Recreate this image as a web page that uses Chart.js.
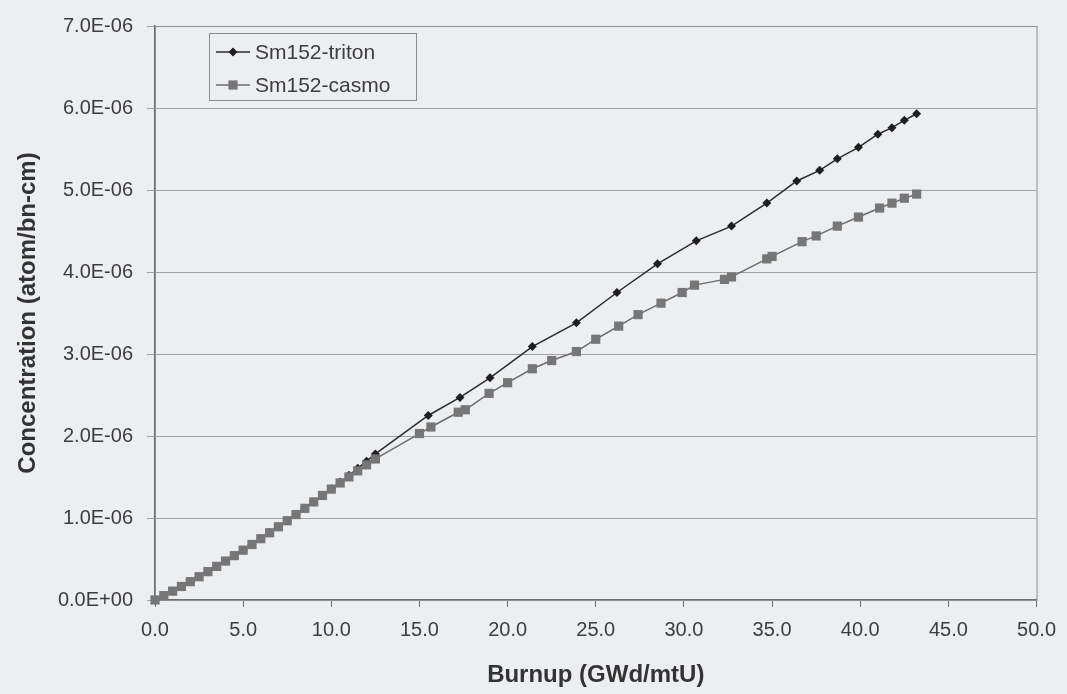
<!DOCTYPE html>
<html>
<head>
<meta charset="utf-8">
<script src="https://cdn.jsdelivr.net/npm/chart.js@4.4.1/dist/chart.umd.min.js"></script>
<style>
  html, body { margin: 0; padding: 0; background: #eceef1; }
</style>
</head>
<body>
<canvas id="smChart" width="1067" height="694"></canvas>
<script>
// burnup (GWd/mtU) and Sm152 concentration in units of 1E-06 atom/bn-cm
const burnupTriton = [0, 0.5, 1.0, 1.5, 2.0, 2.5, 3.0, 3.5, 4.0, 4.5, 5.0, 5.5, 6.0, 6.5, 7.0, 7.5, 8.0, 8.5, 9.0, 9.5,
  10.0, 10.5, 11.0, 11.5, 12.0, 12.5,
  15.5, 17.3, 19.0, 21.4, 23.9, 26.2, 28.5, 30.7, 32.7, 34.7, 36.4, 37.7, 38.7, 39.9, 41.0, 41.8, 42.5, 43.2];
const tritonConc = [0.000, 0.053, 0.108, 0.165, 0.224, 0.284, 0.346, 0.410, 0.475, 0.541, 0.608, 0.677, 0.748, 0.820, 0.893, 0.967,
  1.042, 1.118, 1.196, 1.275, 1.356, 1.438, 1.521, 1.606, 1.693, 1.781,
  2.25, 2.47, 2.71, 3.09, 3.38, 3.75, 4.10, 4.38, 4.56, 4.84, 5.11, 5.24, 5.38, 5.52, 5.68, 5.76, 5.85, 5.93];

const burnupCasmo = [0, 0.5, 1.0, 1.5, 2.0, 2.5, 3.0, 3.5, 4.0, 4.5, 5.0, 5.5, 6.0, 6.5, 7.0, 7.5, 8.0, 8.5, 9.0, 9.5,
  10.0, 10.5, 11.0, 11.5, 12.0, 12.5,
  15.0, 15.65, 17.2, 17.6, 18.95, 20.0, 21.4, 22.5, 23.9, 25.0, 26.3, 27.4, 28.7, 29.9, 30.6, 32.3, 32.7, 34.7, 35.0,
  36.7, 37.5, 38.7, 39.9, 41.1, 41.8, 42.5, 43.2];
const casmoConc = [0.000, 0.053, 0.108, 0.165, 0.224, 0.284, 0.346, 0.410, 0.475, 0.541, 0.608, 0.677, 0.748, 0.820, 0.893, 0.967,
  1.042, 1.118, 1.196, 1.275, 1.352, 1.427, 1.501, 1.575, 1.648, 1.720,
  2.03, 2.11, 2.29, 2.32, 2.52, 2.65, 2.82, 2.92, 3.03, 3.18, 3.34, 3.48, 3.62, 3.75, 3.84, 3.91, 3.94, 4.16, 4.19,
  4.37, 4.44, 4.56, 4.67, 4.78, 4.84, 4.90, 4.95];

const seriesNames = ['Sm152-triton', 'Sm152-casmo'];
const xTicks = [0, 5, 10, 15, 20, 25, 30, 35, 40, 45, 50];
const yTicks = [0, 1, 2, 3, 4, 5, 6, 7];

const textColor = '#3d3d3d';
const fontFamily = '"Liberation Sans", Arial, sans-serif';

const toPoints = (xs, ys) => xs.map((x, i) => ({ x: x, y: ys[i] }));

// frame around the plot area (Excel style)
const plotFrame = {
  id: 'plotFrame',
  beforeDatasetsDraw(chart) {
    const { ctx, chartArea: a } = chart;
    ctx.save();
    ctx.strokeStyle = '#8e8e8e';
    ctx.lineWidth = 1;
    ctx.strokeRect(a.left + 0.5, a.top + 0.5, a.right - a.left, a.bottom - a.top);
    ctx.restore();
  }
};

function drawMarker(ctx, style, x, y, r, color) {
  ctx.fillStyle = color;
  ctx.beginPath();
  if (style === 'rectRot') {
    ctx.moveTo(x, y - r); ctx.lineTo(x + r, y); ctx.lineTo(x, y + r); ctx.lineTo(x - r, y);
    ctx.closePath();
  } else {
    const s = r * Math.SQRT1_2;
    ctx.rect(x - s, y - s, 2 * s, 2 * s);
  }
  ctx.fill();
}

// boxed legend with line + marker samples, inside the plot area
const legendBox = {
  id: 'legendBox',
  afterDraw(chart) {
    const { ctx, chartArea: a } = chart;
    const bx = a.left + 54, by = a.top + 7, bw = 207, bh = 67;
    ctx.save();
    ctx.strokeStyle = '#8c8c8c';
    ctx.lineWidth = 1;
    ctx.strokeRect(bx + 0.5, by + 0.5, bw, bh);
    chart.data.datasets.forEach((ds, i) => {
      const cy = by + 19 + i * 33;
      ctx.strokeStyle = ds.borderColor;
      ctx.lineWidth = ds.borderWidth;
      ctx.beginPath();
      ctx.moveTo(bx + 7, cy);
      ctx.lineTo(bx + 41, cy);
      ctx.stroke();
      drawMarker(ctx, ds.pointStyle, bx + 24, cy, ds.pointRadius, ds.pointBackgroundColor);
      ctx.fillStyle = textColor;
      ctx.font = '21px ' + fontFamily;
      ctx.textBaseline = 'middle';
      ctx.textAlign = 'left';
      ctx.fillText(ds.label, bx + 46, cy + 1);
    });
    ctx.restore();
  }
};

new Chart(document.getElementById('smChart'), {
  type: 'line',
  data: {
    datasets: [{
      label: seriesNames[0],
      data: toPoints(burnupTriton, tritonConc),
      borderColor: '#2b2b2b',
      borderWidth: 1.5,
      pointStyle: 'rectRot',
      pointRadius: 4.5,
      pointBackgroundColor: '#1f1f1f',
      pointBorderWidth: 0,
      tension: 0,
      clip: false,
      order: 1
    }, {
      label: seriesNames[1],
      data: toPoints(burnupCasmo, casmoConc),
      borderColor: '#6c6c6c',
      borderWidth: 1.5,
      pointStyle: 'rect',
      pointRadius: 6.5,
      pointBackgroundColor: '#767676',
      pointBorderWidth: 0,
      tension: 0,
      clip: false,
      order: 0
    }]
  },
  options: {
    responsive: false,
    animation: false,
    devicePixelRatio: 1,
    layout: { padding: { top: 16, right: 28, left: 0, bottom: 0 } },
    plugins: { legend: { display: false }, tooltip: { enabled: false } },
    scales: {
      x: {
        type: 'linear',
        min: 0,
        max: 50,
        afterFit: (s) => { s.height = 94; },
        afterBuildTicks: (s) => { s.ticks = xTicks.map(v => ({ value: v })); },
        ticks: {
          color: textColor,
          font: { size: 20, family: fontFamily },
          padding: 11,
          maxRotation: 0,
          callback: (v) => v.toFixed(1)
        },
        grid: { drawOnChartArea: false, color: '#6f6f6f', tickLength: 7 },
        border: { color: '#6f6f6f', width: 1.5 },
        title: {
          display: true,
          text: 'Burnup (GWd/mtU)',
          color: '#333',
          font: { size: 24, weight: 'bold', family: fontFamily },
          padding: { top: 0, bottom: 4 }
        }
      },
      y: {
        min: 0,
        max: 7,
        afterFit: (s) => { s.width = 155; },
        afterBuildTicks: (s) => { s.ticks = yTicks.map(v => ({ value: v })); },
        ticks: {
          color: textColor,
          font: { size: 20, family: fontFamily },
          padding: 14,
          callback: (v) => v === 0 ? '0.0E+00' : v.toFixed(1) + 'E-06'
        },
        grid: { color: '#a2a2a2', tickLength: 8 },
        border: { color: '#6f6f6f', width: 1.5 },
        title: {
          display: true,
          text: 'Concentration (atom/bn-cm)',
          color: '#333',
          font: { size: 24, weight: 'bold', family: fontFamily },
          padding: { top: 14, bottom: 0 }
        }
      }
    }
  },
  plugins: [plotFrame, legendBox]
});
</script>
</body>
</html>
